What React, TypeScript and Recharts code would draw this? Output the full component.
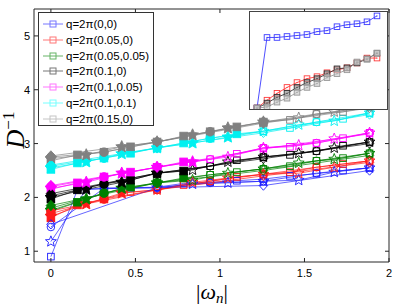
import React from 'react';
import { LineChart, Line, XAxis, YAxis } from 'recharts';

const seriesLabels = ['q=2π(0,0)', 'q=2π(0.05,0)', 'q=2π(0.05,0.05)', 'q=2π(0.1,0)', 'q=2π(0.1,0.05)', 'q=2π(0.1,0.1)', 'q=2π(0.15,0)'];
const seriesColors = ['#1a1aff', '#ff1a1a', '#008000', '#000000', '#ff00ff', '#00f0f0', '#808080'];
const legendColors = ['#7777ff', '#ff7777', '#66b366', '#777777', '#ff77ff', '#77ffff', '#c4c4c4'];
const filledUpTo = [-1, 0.45, 0.8, 0.8, 0.85, 1.12, 1.28];

const xTicks = [0, 0.5, 1, 1.5, 2];
const yTicks = [1, 2, 3, 4, 5];

// Matsubara frequencies for the four temperatures
const freqSquare = [0, 0.157, 0.314, 0.471, 0.628, 0.785, 0.942, 1.1, 1.257, 1.414, 1.571, 1.728, 1.885];
const freqStar = [0, 0.209, 0.419, 0.628, 0.838, 1.047, 1.257, 1.466, 1.676, 1.885];
const freqCircle = [0, 0.314, 0.628, 0.942, 1.257, 1.571, 1.885];
const freqDiamond = [0, 0.628, 1.257, 1.885];

const blueSquare = [0.9, 2.14, 2.17, 2.18, 2.19, 2.26, 2.28, 2.31, 2.34, 2.4, 2.44, 2.5, 2.55];
const redSquare = [1.62, 1.86, 1.97, 2.1, 2.14, 2.23, 2.3, 2.38, 2.43, 2.47, 2.56, 2.62, 2.68];
const greenSquare = [1.74, 1.91, 2.08, 2.19, 2.27, 2.36, 2.42, 2.47, 2.53, 2.58, 2.68, 2.73, 2.82];
const blackSquare = [1.97, 2.14, 2.25, 2.32, 2.45, 2.49, 2.58, 2.69, 2.75, 2.79, 2.86, 2.96, 3.03];
const magentaSquare = [2.15, 2.27, 2.38, 2.47, 2.56, 2.66, 2.71, 2.81, 2.92, 2.94, 3.01, 3.1, 3.2];
const cyanSquare = [2.52, 2.64, 2.73, 2.82, 2.92, 3.01, 3.1, 3.18, 3.23, 3.29, 3.4, 3.46, 3.57];
const graySquare = [2.68, 2.79, 2.84, 2.94, 3.03, 3.14, 3.22, 3.31, 3.4, 3.44, 3.55, 3.59, 3.68];

const blueStar = [1.18, 2.15, 2.17, 2.18, 2.25, 2.27, 2.3, 2.32, 2.47, 2.55];
const redStar = [1.65, 1.88, 2.08, 2.14, 2.28, 2.36, 2.43, 2.45, 2.56, 2.68];
const greenStar = [1.76, 1.97, 2.17, 2.27, 2.32, 2.45, 2.53, 2.64, 2.71, 2.82];
const blackStar = [2.0, 2.15, 2.28, 2.45, 2.51, 2.66, 2.75, 2.82, 2.92, 3.03];
const magentaStar = [2.17, 2.28, 2.45, 2.56, 2.66, 2.75, 2.92, 2.97, 3.09, 3.2];
const cyanStar = [2.55, 2.66, 2.81, 2.92, 3.01, 3.12, 3.23, 3.35, 3.42, 3.57];
const grayStar = [2.72, 2.79, 2.94, 3.03, 3.16, 3.29, 3.4, 3.48, 3.59, 3.68];

const blueCircle = [1.45, 2.17, 2.18, 2.27, 2.3, 2.45, 2.55];
const redCircle = [1.7, 1.97, 2.14, 2.3, 2.43, 2.56, 2.68];
const greenCircle = [1.8, 2.08, 2.27, 2.42, 2.53, 2.68, 2.82];
const blackCircle = [2.03, 2.25, 2.45, 2.58, 2.75, 2.86, 3.03];
const magentaCircle = [2.2, 2.38, 2.56, 2.71, 2.92, 3.01, 3.2];
const cyanCircle = [2.58, 2.73, 2.92, 3.1, 3.23, 3.4, 3.57];
const grayCircle = [2.75, 2.84, 3.03, 3.22, 3.4, 3.55, 3.68];

const blueDiamond = [1.5, 2.18, 2.22, 2.5];
const redDiamond = [1.75, 2.14, 2.4, 2.65];
const greenDiamond = [1.85, 2.27, 2.5, 2.78];
const blackDiamond = [2.07, 2.45, 2.72, 3.0];
const magentaDiamond = [2.22, 2.56, 2.9, 3.18];
const cyanDiamond = [2.6, 2.92, 3.2, 3.54];
const grayDiamond = [2.77, 3.03, 3.38, 3.66];

// inset (arbitrary units)
const insetIndex = [0, 1, 2, 3, 4, 5, 6, 7, 8, 9, 10, 11, 12];
const insetBlue = [0, 72, 72, 73, 74, 75, 78, 79, 83, 85, 86, 88, 94];
const insetRed = [0, 8, 15, 21, 26, 30, 32, 36, 39, 41, 46, 51, 51];
const insetBlack = [0, 5, 11, 15, 21, 26, 30, 35, 40, 41, 46, 50, 56];
const insetGray = [0, 1, 6, 10, 16, 21, 25, 31, 35, 39, 47, 50, 56];

type Shape = 'square' | 'star' | 'circle' | 'diamond';

const groups: { shape: Shape; freq: number[]; values: number[][] }[] = [
  { shape: 'square', freq: freqSquare, values: [blueSquare, redSquare, greenSquare, blackSquare, magentaSquare, cyanSquare, graySquare] },
  { shape: 'star', freq: freqStar, values: [blueStar, redStar, greenStar, blackStar, magentaStar, cyanStar, grayStar] },
  { shape: 'circle', freq: freqCircle, values: [blueCircle, redCircle, greenCircle, blackCircle, magentaCircle, cyanCircle, grayCircle] },
  { shape: 'diamond', freq: freqDiamond, values: [blueDiamond, redDiamond, greenDiamond, blackDiamond, magentaDiamond, cyanDiamond, grayDiamond] },
];

const TOP = 9;
const LEFT = 34;
const RIGHT = 389;
const BOTTOM = 262;
const AXIS = '#262626';
const SANS = '"Liberation Sans", Arial, Helvetica, sans-serif';
const SERIF = '"Liberation Serif", "DejaVu Serif", "Times New Roman", serif';

function starPath(cx: number, cy: number, ro: number, ri: number) {
  const pts: string[] = [];
  for (let k = 0; k < 10; k++) {
    const r = k % 2 === 0 ? ro : ri;
    const a = -Math.PI / 2 + (k * Math.PI) / 5;
    pts.push(`${(cx + r * Math.cos(a)).toFixed(2)},${(cy + r * Math.sin(a)).toFixed(2)}`);
  }
  return 'M' + pts.join('L') + 'Z';
}

function Marker({ cx, cy, shape, color, filled }: { cx: number; cy: number; shape: Shape; color: string; filled: boolean }) {
  const fill = filled ? color : 'none';
  const sw = 0.9;
  const h = filled ? 3.8 : 3.3;
  if (shape === 'square') return <rect x={cx - h} y={cy - h} width={2 * h} height={2 * h} fill={fill} stroke={color} strokeWidth={sw} />;
  if (shape === 'circle') return <circle cx={cx} cy={cy} r={h + 0.5} fill={fill} stroke={color} strokeWidth={sw} />;
  if (shape === 'diamond') return <path d={`M${cx},${cy - h - 1.4}L${cx + h + 0.9},${cy}L${cx},${cy + h + 1.4}L${cx - h - 0.9},${cy}Z`} fill={fill} stroke={color} strokeWidth={sw} />;
  return <path d={starPath(cx, cy, h + 2.4, h - 0.8)} fill={fill} stroke={color} strokeWidth={sw} />;
}

function makeDot(shape: Shape, s: number) {
  return (props: any) => {
    const { cx, cy, payload, index } = props;
    if (cx == null || cy == null) return <g key={`d${index}`} />;
    const filled = payload.x <= filledUpTo[s];
    return <Marker key={`d${index}`} cx={cx} cy={cy} shape={shape} color={seriesColors[s]} filled={filled} />;
  };
}

const XTick = (props: any) => {
  const { x, payload } = props;
  return (
    <g>
      <line x1={x} x2={x} y1={BOTTOM} y2={BOTTOM - 4} stroke={AXIS} />
      <line x1={x} x2={x} y1={TOP} y2={TOP + 4} stroke={AXIS} />
      <text x={x} y={BOTTOM + 15} textAnchor="middle" fontSize={11} fontFamily={SANS} fill="#000">{payload.value}</text>
    </g>
  );
};

const YTick = (props: any) => {
  const { y, payload } = props;
  return (
    <g>
      <line x1={LEFT} x2={LEFT + 4} y1={y} y2={y} stroke={AXIS} />
      <line x1={RIGHT - 4} x2={RIGHT} y1={y} y2={y} stroke={AXIS} />
      <text x={LEFT - 4} y={y + 4} textAnchor="end" fontSize={11} fontFamily={SANS} fill="#000">{payload.value}</text>
    </g>
  );
};

const InsetTick = (props: any) => {
  const { y } = props;
  return <line x1={137} x2={133} y1={y} y2={y} stroke={AXIS} />;
};

const insetSeries = [
  { values: insetBlue, color: '#3a3aff', fill: 'none' },
  { values: insetRed, color: '#ff3a3a', fill: 'none' },
  { values: insetBlack, color: '#333333', fill: '#999999' },
  { values: insetGray, color: '#999999', fill: '#cccccc' },
];

export default function App() {
  return (
    <div style={{ position: 'absolute', left: 0, top: 0, width: 395, height: 306, background: '#fff' }}>
      <LineChart width={395} height={306} margin={{ top: TOP - 1, right: 395 - RIGHT - 1, bottom: 306 - BOTTOM - 1, left: LEFT - 1 }}>
        <XAxis dataKey="x" type="number" domain={[-0.1, 2]} ticks={xTicks} allowDataOverflow height={1}
          tickSize={0} tickMargin={0} tick={<XTick />} axisLine={{ stroke: AXIS }} tickLine={false} />
        <XAxis xAxisId="top" orientation="top" type="number" domain={[0, 1]} height={1} tick={false} axisLine={{ stroke: AXIS }} tickLine={false} />
        <YAxis type="number" domain={[0.8, 5.5]} ticks={yTicks} allowDataOverflow width={1}
          tickSize={0} tickMargin={0} tick={<YTick />} axisLine={{ stroke: AXIS }} tickLine={false} />
        <YAxis yAxisId="right" orientation="right" type="number" domain={[0, 1]} width={1} tick={false} axisLine={{ stroke: AXIS }} tickLine={false} />
        {groups.map((g) =>
          g.values.map((vals, s) => (
            <Line
              key={`${g.shape}-${s}`}
              data={g.freq.map((x, i) => ({ x, y: vals[i] }))}
              dataKey="y"
              stroke={seriesColors[s]}
              strokeWidth={0.9}
              strokeOpacity={0.75}
              dot={makeDot(g.shape, s)}
              activeDot={false}
              isAnimationActive={false}
            />
          ))
        )}
      </LineChart>

      {/* legend */}
      <div style={{ position: 'absolute', left: 38, top: 12, width: 116, height: 114, border: '1px solid #333', background: '#fff', boxSizing: 'border-box' }}>
        {seriesLabels.map((lab, i) => (
          <div key={lab} style={{ position: 'absolute', left: 0, top: 3 + i * 15.8, height: 16, width: 114, fontFamily: SANS, fontSize: 11.5, lineHeight: '16px', color: '#000', whiteSpace: 'nowrap' }}>
            <svg width={24} height={16} style={{ position: 'absolute', left: 4, top: 0 }}>
              <line x1={0} x2={20} y1={8} y2={8} stroke={legendColors[i]} strokeWidth={1} />
              <rect x={7} y={5} width={6} height={6} fill="none" stroke={legendColors[i]} strokeWidth={1} />
            </svg>
            <span style={{ position: 'absolute', left: 27, top: 0 }}>{lab}</span>
          </div>
        ))}
      </div>

      {/* inset */}
      <div style={{ position: 'absolute', left: 249, top: 11, width: 139, height: 99, background: '#fff', border: '1px solid #444', boxSizing: 'border-box' }}>
        <LineChart width={137} height={97} margin={{ top: 0, right: 0, bottom: 0, left: 0 }}>
          <XAxis dataKey="x" type="number" domain={[-0.7, 12.9]} hide />
          <YAxis type="number" domain={[-1, 98]} hide />
          <YAxis yAxisId="r" orientation="right" type="number" domain={[-1, 98]} width={1} ticks={[21, 74]} tick={<InsetTick />} tickSize={0} tickMargin={0} axisLine={false} tickLine={false} />
          {insetSeries.map((s, k) => (
            <Line
              key={k}
              data={insetIndex.map((x, i) => ({ x, y: s.values[i] }))}
              dataKey="y"
              stroke={s.color}
              strokeWidth={0.9}
              isAnimationActive={false}
              activeDot={false}
              dot={(p: any) => (
                <g key={`i${p.index}`}>
                  <rect x={p.cx - 2.8} y={p.cy - 2.8} width={5.6} height={5.6} fill={s.fill} fillOpacity={0.7} stroke={s.color} strokeWidth={0.9} />
                  <circle cx={p.cx} cy={p.cy} r={0.6} fill={s.color} />
                </g>
              )}
            />
          ))}
        </LineChart>
      </div>

      {/* axis labels */}
      <svg width={395} height={306} style={{ position: 'absolute', left: 0, top: 0, pointerEvents: 'none' }}>
        <text x={212} y={299} textAnchor="middle" fontFamily={SERIF} fontSize={22} fill="#000">
          <tspan>|</tspan>
          <tspan fontStyle="italic">ω</tspan>
          <tspan fontStyle="italic" fontSize={15} dy={4}>n</tspan>
          <tspan dy={-4}>|</tspan>
        </text>
        <text transform="translate(24,130) rotate(-90)" textAnchor="middle" fontFamily={SERIF} fontSize={26} fill="#000">
          <tspan fontStyle="italic">D</tspan>
          <tspan fontSize={17} dy={-10}>−1</tspan>
        </text>
      </svg>
    </div>
  );
}
